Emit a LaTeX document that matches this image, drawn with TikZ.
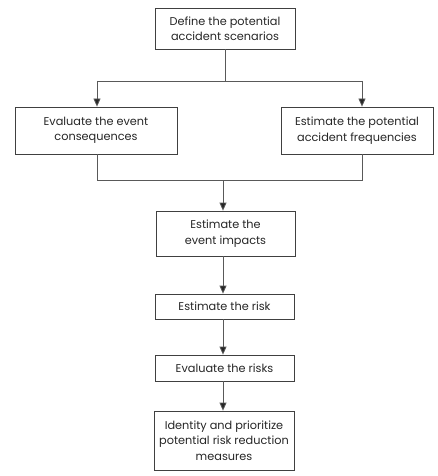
\documentclass[tikz,border=0pt]{standalone}
\usepackage{fontspec}
\setmainfont{Poppins}
\usetikzlibrary{arrows.meta}
\begin{document}
\begin{tikzpicture}[x=1pt,y=-1pt,
  box/.style={draw=black!75,line width=0.8pt,align=center,inner sep=2pt,font=\fontsize{11.3}{15.5}\selectfont,text=black!85},
  conn/.style={draw=black!65,line width=0.8pt},
  arr/.style={conn,-{Triangle[length=8pt,width=7pt,fill=black!85]}}]
\useasboundingbox (0,0) rectangle (438,476);
\node[box,minimum width=140pt,minimum height=41pt] (a) at (225,28.5) {Define the potential\\accident scenarios};
\node[box,minimum width=162pt,minimum height=47pt] (b) at (96,130.5) {Evaluate the event\\consequences};
\node[box,minimum width=152pt,minimum height=47pt] (c) at (357,130.5) {Estimate the potential\\accident frequencies};
\node[box,minimum width=139pt,minimum height=45pt] (d) at (225.5,233.5) {Estimate the\\event impacts};
\node[box,minimum width=139pt,minimum height=25pt] (e) at (224.5,306.5) {Estimate the risk};
\node[box,minimum width=139pt,minimum height=26pt] (f) at (224.5,368) {Evaluate the risks};
\node[box,minimum width=140pt,minimum height=59pt] (g) at (224,440.5) {Identity and prioritize\\potential risk reduction\\measures};
\coordinate (j1) at (225,81);
\coordinate (jl) at (97,81);
\coordinate (jr) at (362,81);
\coordinate (kl) at (97,180);
\coordinate (kr) at (362,180);
\coordinate (km) at (223,180);
\draw[conn] (a.south) -- (j1);
\draw[conn] (jl) -- (jr);
\draw[arr] (jl) -- (jl |- b.north);
\draw[arr] (jr) -- (jr |- c.north);
\draw[conn] (kl |- b.south) -- (kl) -- (kr) -- (kr |- c.south);
\draw[arr] (km) -- (km |- d.north);
\draw[arr] (km |- d.south) -- (km |- e.north);
\draw[arr] (km |- e.south) -- (km |- f.north);
\draw[arr] (km |- f.south) -- (km |- g.north);
\end{tikzpicture}
\end{document}
